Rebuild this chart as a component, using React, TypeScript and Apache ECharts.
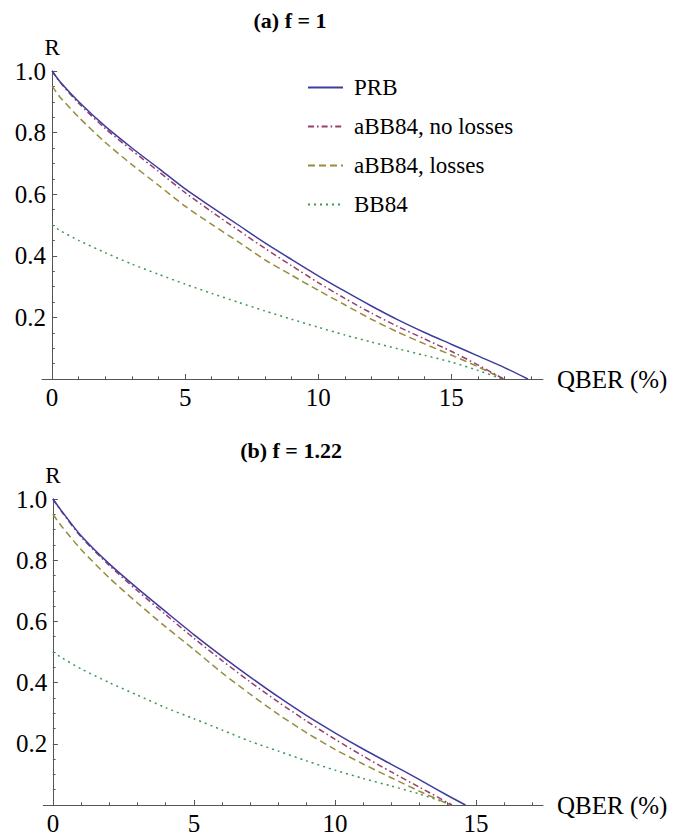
import React, { useEffect, useRef } from "react";
import * as echarts from "echarts";

const FONT = '"Liberation Serif", "Times New Roman", serif';

// Panel (a) f = 1 : [QBER %, R]
const prbA = [[0,1.0],[0.3,0.965],[1,0.90],[2,0.82],[3,0.75],[4,0.684],[5,0.617],[6,0.558],[7,0.50],[8,0.442],[9,0.388],[10,0.335],[11,0.285],[12,0.237],[13,0.192],[14,0.151],[15,0.113],[16,0.075],[17,0.037],[17.88,0]];
const noLossA = [[0,1.0],[0.3,0.963],[1,0.895],[2,0.813],[3,0.742],[4,0.674],[5,0.605],[6,0.543],[7,0.483],[8,0.424],[9,0.368],[10,0.313],[11,0.262],[12,0.214],[13,0.17],[14,0.13],[15,0.09],[16,0.046],[16.97,0]];
const lossA = [[0,0.951],[0.3,0.915],[1,0.85],[2,0.768],[3,0.696],[4,0.629],[5,0.561],[6,0.502],[7,0.445],[8,0.387],[9,0.337],[10,0.288],[11,0.241],[12,0.194],[13,0.152],[14,0.114],[15,0.078],[16,0.04],[16.97,0]];
const bb84A = [[0,0.5],[0.3,0.482],[1,0.45],[2,0.41],[3,0.373],[4,0.34],[5,0.308],[6,0.278],[7,0.249],[8,0.221],[9,0.194],[10,0.168],[11,0.143],[12,0.12],[13,0.098],[14,0.077],[15,0.055],[16,0.028],[16.9,0]];

// Panel (b) f = 1.22
const prbB = [[0,1.0],[0.3,0.962],[1,0.88],[2,0.788],[3,0.708],[4,0.632],[5,0.557],[6,0.486],[7,0.418],[8,0.353],[9,0.292],[10,0.236],[11,0.183],[12,0.133],[13,0.083],[14,0.031],[14.63,0]];
const noLossB = [[0,1.0],[0.3,0.96],[1,0.876],[2,0.783],[3,0.70],[4,0.622],[5,0.545],[6,0.472],[7,0.402],[8,0.336],[9,0.274],[10,0.215],[11,0.16],[12,0.108],[13,0.058],[14,0.008],[14.15,0]];
const lossB = [[0,0.95],[0.3,0.912],[1,0.835],[2,0.742],[3,0.66],[4,0.582],[5,0.508],[6,0.432],[7,0.362],[8,0.296],[9,0.236],[10,0.182],[11,0.134],[12,0.089],[13,0.045],[14,0.004],[14.12,0]];
const bb84B = [[0,0.5],[0.3,0.482],[1,0.445],[2,0.4],[3,0.359],[4,0.318],[5,0.282],[6,0.245],[7,0.208],[8,0.176],[9,0.144],[10,0.114],[11,0.087],[12,0.062],[13,0.036],[14,0.005],[14.14,0]];

const seriesNames = ["PRB", "aBB84, no losses", "aBB84, losses", "BB84"];
const xMajorTicks = [0, 5, 10, 15];
const xMinorTicksA = [1,2,3,4,6,7,8,9,11,12,13,14,16,17,18];
const xMinorTicksB = [1,2,3,4,6,7,8,9,11,12,13,14,16,17];
const titles = ["(a) f = 1", "(b) f = 1.22"];

const COLORS = ["#3d3d9e", "#993d71", "#998b3d", "#3d9954"];
const DASHES: any[] = ["solid", [6, 3, 1.6, 3], [7, 4], [2, 4]];
const AXIS_COLOR = "#555";

export default function App() {
  const ref = useRef<HTMLDivElement>(null);
  useEffect(() => {
    if (!ref.current) return;
    const chart = echarts.init(ref.current, null, { renderer: "svg" });

    const grids = [
      { left: 42, right: 142, top: 71, bottom: 457 },
      { left: 43.3, right: 142, top: 499, bottom: 29 },
    ];
    const xRanges = [[-0.38, 18.45], [-0.34, 17.38]];
    const minors = [xMinorTicksA, xMinorTicksB];

    const xAxes: any[] = [];
    const yAxes: any[] = [];
    [0, 1].forEach((g) => {
      xAxes.push({
        type: "value", gridIndex: g, min: xRanges[g][0], max: xRanges[g][1],
        position: "bottom",
        axisLine: { show: true, onZero: false, lineStyle: { color: AXIS_COLOR, width: 1 } },
        axisTick: { show: true, inside: true, length: 5, customValues: xMajorTicks, lineStyle: { color: AXIS_COLOR } },
        axisLabel: { show: true, customValues: xMajorTicks, margin: 6, color: "#000", fontFamily: FONT, fontSize: 25 },
        splitLine: { show: false },
        name: "QBER (%)", nameLocation: "end", nameGap: 14,
        nameTextStyle: { color: "#000", fontFamily: FONT, fontSize: 25, verticalAlign: "middle" },
      });
      xAxes.push({
        type: "value", gridIndex: g, min: xRanges[g][0], max: xRanges[g][1],
        position: "bottom",
        axisLine: { show: false, onZero: false },
        axisTick: { show: true, inside: true, length: 2.7, customValues: minors[g], lineStyle: { color: AXIS_COLOR } },
        axisLabel: { show: false },
        splitLine: { show: false },
      });
      yAxes.push({
        type: "value", gridIndex: g, min: 0, max: 1, interval: 0.2,
        axisLine: { show: true, onZero: true, onZeroAxisIndex: g * 2, lineStyle: { color: AXIS_COLOR, width: 1 } },
        axisTick: { show: true, inside: true, length: 5, lineStyle: { color: AXIS_COLOR } },
        minorTick: { show: true, splitNumber: 4, length: 2.7, lineStyle: { color: AXIS_COLOR } },
        axisLabel: {
          margin: -4, color: "#000", fontFamily: FONT, fontSize: 25,
          formatter: (v: number) => (v === 0 ? "" : v.toFixed(1)),
        },
        splitLine: { show: false },
        minorSplitLine: { show: false },
        name: "R", nameLocation: "end", nameGap: 9,
        nameTextStyle: { color: "#000", fontFamily: FONT, fontSize: 23 },
      });
    });

    const panelData = [
      [prbA, noLossA, lossA, bb84A],
      [prbB, noLossB, lossB, bb84B],
    ];
    const series: any[] = [];
    panelData.forEach((set, g) => {
      set.forEach((d, i) => {
        series.push({
          type: "line", name: seriesNames[i], data: d,
          xAxisIndex: g * 2, yAxisIndex: g,
          showSymbol: false, symbol: "none",
          smooth: 0.25,
          silent: true,
          lineStyle: { color: COLORS[i], width: 1.5, type: DASHES[i] },
          itemStyle: { color: COLORS[i] },
          emphasis: { disabled: true },
          z: 10 - i,
        });
      });
    });

    chart.setOption({
      animation: false,
      backgroundColor: "#fff",
      grid: grids,
      xAxis: xAxes,
      yAxis: yAxes,
      series,
      legend: {
        data: seriesNames,
        orient: "vertical", left: 307, top: 76, padding: 0,
        itemWidth: 35, itemHeight: 14, itemGap: 16,
        selectedMode: false,
        itemStyle: { opacity: 0, borderWidth: 0 },
        textStyle: { color: "#000", fontFamily: FONT, fontSize: 23, padding: [0, 0, 0, 6] },
      },
      graphic: [
        { type: "text", x: 290, y: 20, style: { text: titles[0], textAlign: "center", textVerticalAlign: "middle", font: `bold 22px ${FONT}`, fill: "#000" } },
        { type: "text", x: 291, y: 450, style: { text: titles[1], textAlign: "center", textVerticalAlign: "middle", font: `bold 22px ${FONT}`, fill: "#000" } },
      ],
    });
    return () => chart.dispose();
  }, []);
  return <div ref={ref} style={{ position: "fixed", left: 0, top: 0, width: 685, height: 836, background: "#fff" }} />;
}
